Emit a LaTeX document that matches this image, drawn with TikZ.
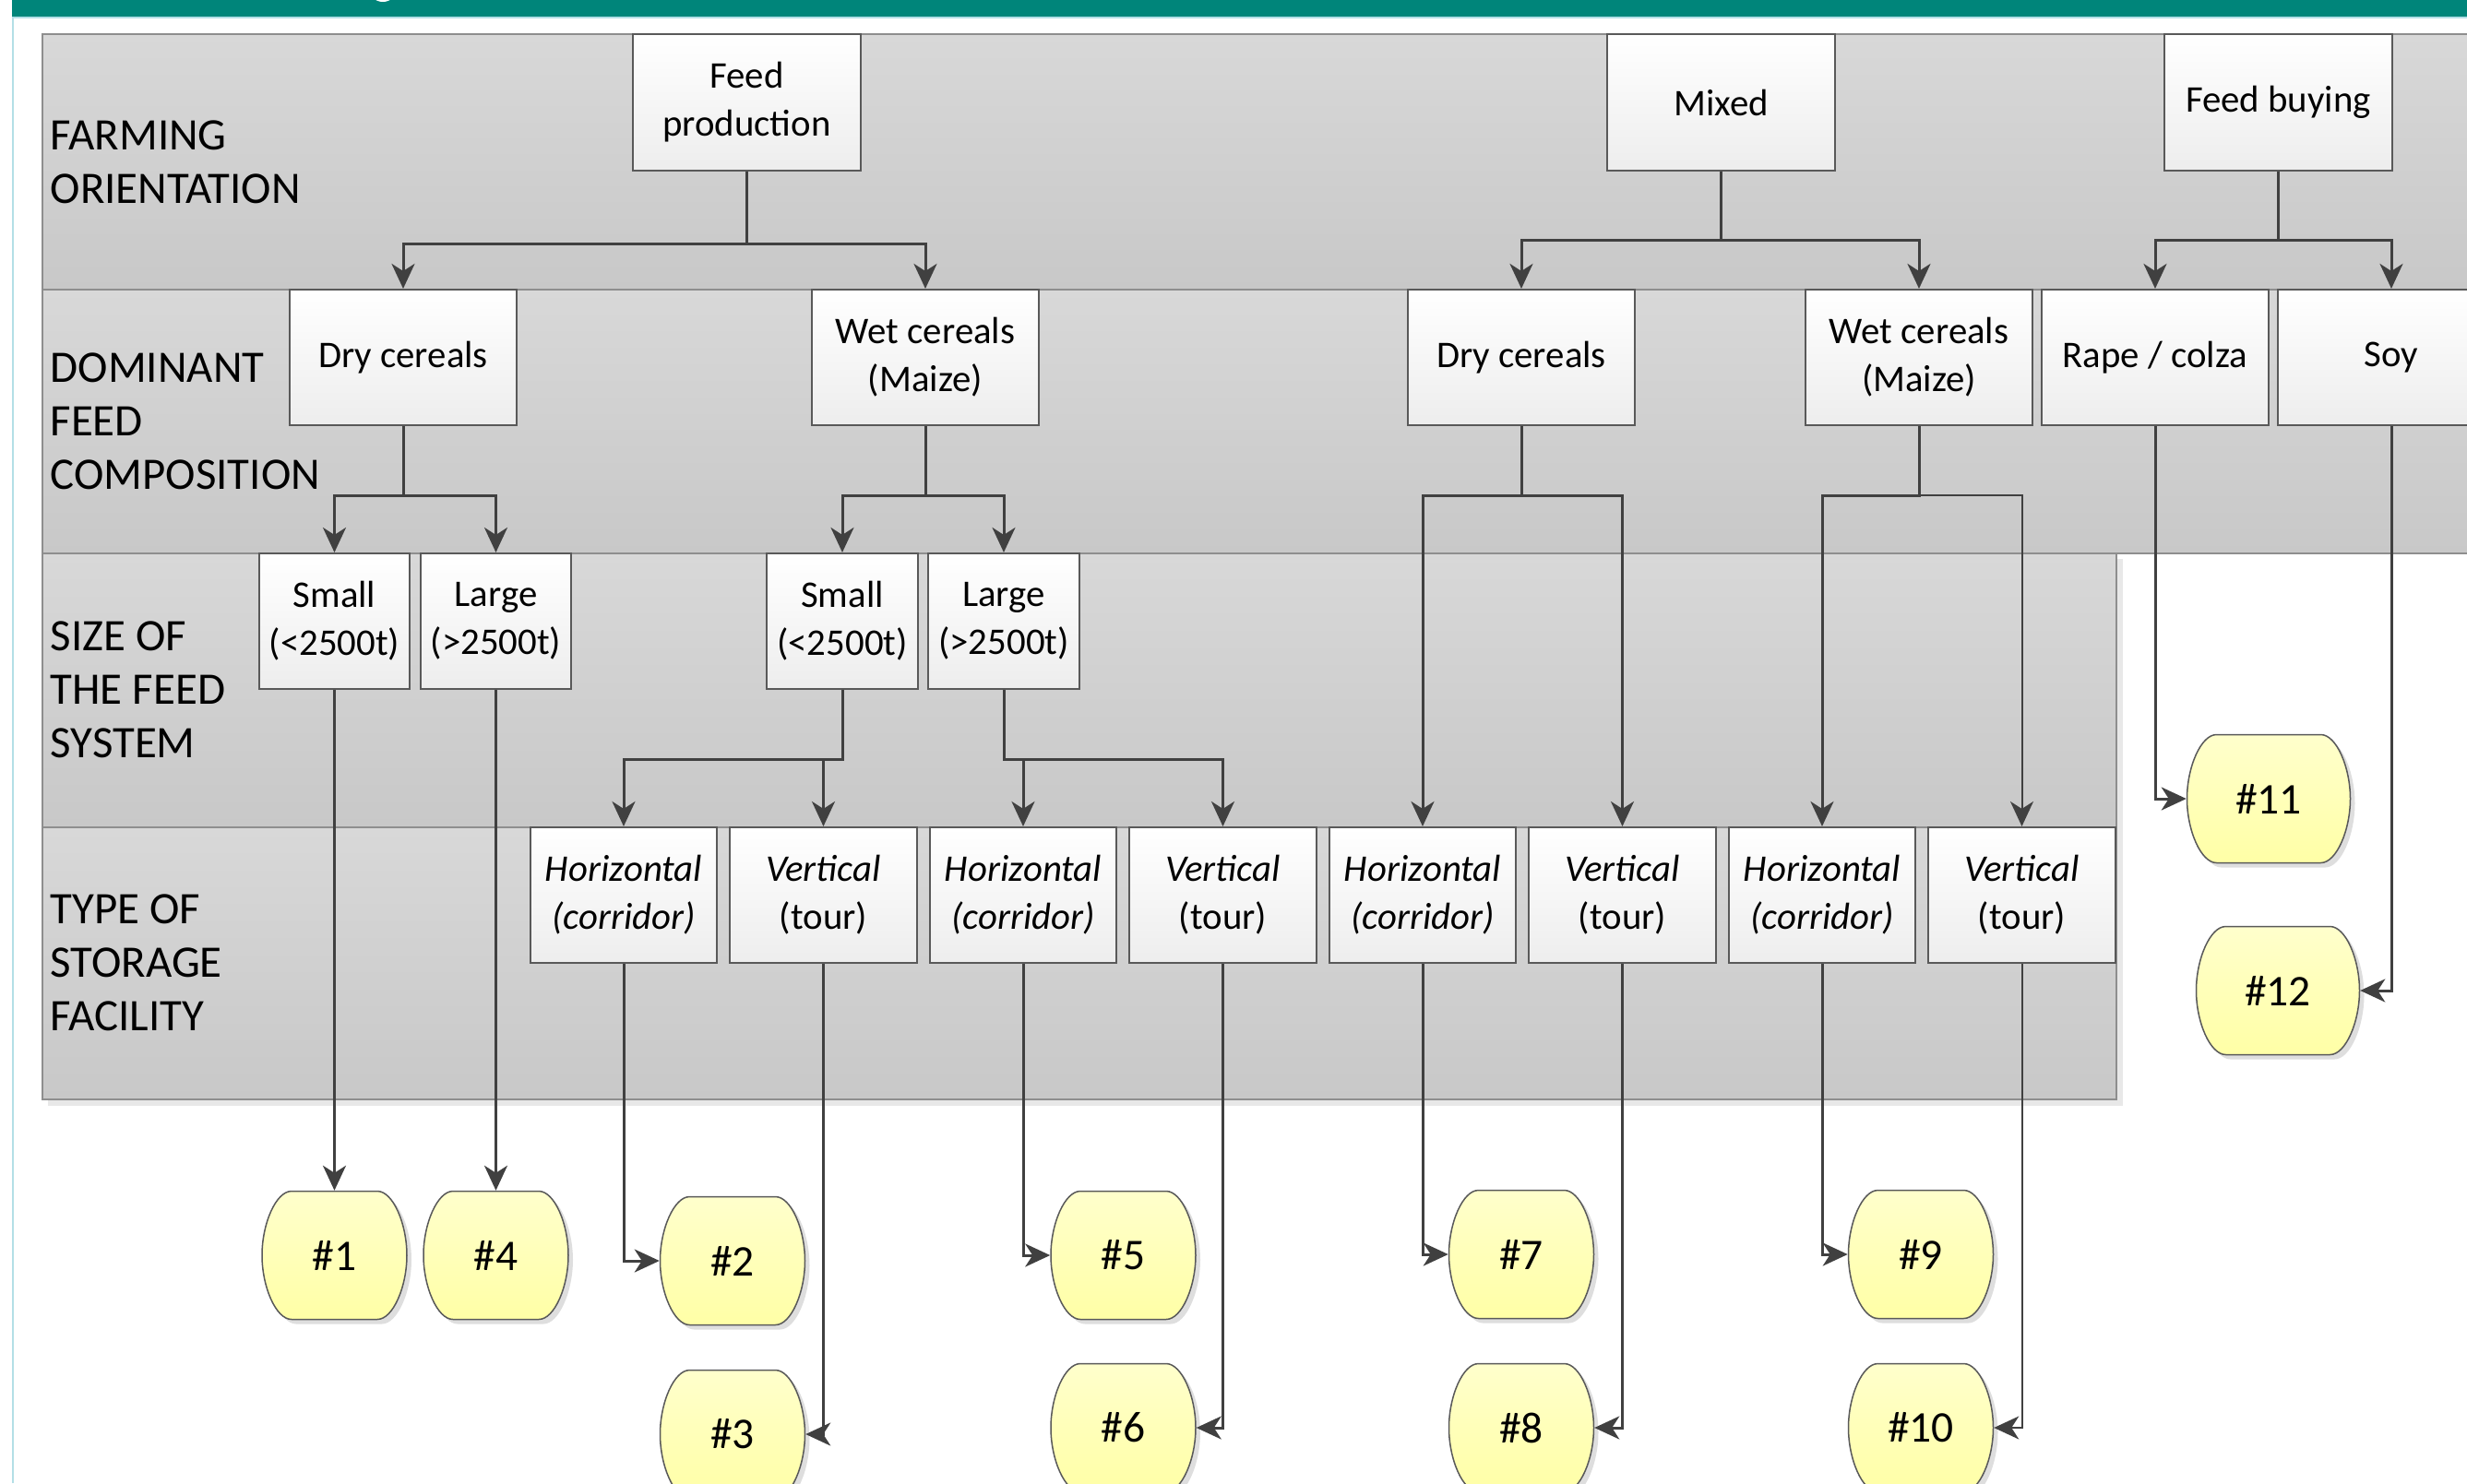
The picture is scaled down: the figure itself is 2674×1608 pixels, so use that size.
\documentclass[tikz,border=0pt]{standalone}
\usepackage{fontspec}
\setmainfont{Carlito}
\usetikzlibrary{arrows.meta,shadows}

\definecolor{barteal}{HTML}{00857A}
\definecolor{framecyan}{HTML}{B3DFE6}
\definecolor{linegray}{HTML}{404040}
\definecolor{edgegray}{HTML}{595959}
\definecolor{bandtop}{HTML}{D8D8D8}
\definecolor{bandbot}{HTML}{C8C8C8}
\definecolor{bandedge}{HTML}{8E8E8E}
\definecolor{restop}{HTML}{FFFFCC}
\definecolor{resbot}{HTML}{FFFFA6}

\begin{document}
\begin{tikzpicture}[x=0.01cm,y=-0.01cm,
	band/.style={draw=bandedge,line width=0.02cm,top color=bandtop,bottom color=bandbot},
	lab/.style={anchor=west,inner sep=0pt,align=left,font=\fontsize{13.9}{16.5}\selectfont},
	box/.style={draw=edgegray,line width=0.02cm,top color=white,bottom color=black!7,
		minimum width=2.46cm,minimum height=1.47cm,inner sep=0pt,align=center,
		font=\fontsize{11.6}{14.8}\selectfont},
	resline/.style={draw=edgegray,line width=0.015cm,top color=restop,bottom color=resbot,
		drop shadow={shadow xshift=0.05cm,shadow yshift=-0.05cm,fill=black!13,opacity=1}},
	res/.style={minimum width=1.57cm,minimum height=1.39cm,inner sep=0pt,
		font=\fontsize{13.5}{16}\selectfont},
	conn/.style={draw=linegray,line width=0.03cm,-{Stealth[length=0.27cm,width=0.25cm,inset=0.08cm]}},
	thinconn/.style={conn,line width=0.02cm}]
	\newcommand\rowA{111}
	\newcommand\rowB{387.5}
	\newcommand\rowC{673.5}
	\newcommand\rowD{970.5}
	\newcommand\resA{1361}
	\newcommand\resB{1548}
	% outcome outline: centre x, centre y, half width
	\newcommand\barrel[3]{
		\path[resline] (#1-#3+32,#2-69.5) -- (#1+#3-32,#2-69.5)
			.. controls (#1+#3-15,#2-69.5) and (#1+#3,#2-34) .. (#1+#3,#2)
			.. controls (#1+#3,#2+34) and (#1+#3-15,#2+69.5) .. (#1+#3-32,#2+69.5)
			-- (#1-#3+32,#2+69.5)
			.. controls (#1-#3+15,#2+69.5) and (#1-#3,#2+34) .. (#1-#3,#2)
			.. controls (#1-#3,#2-34) and (#1-#3+15,#2-69.5) .. cycle;
	}

	\useasboundingbox (0,0) rectangle (2674,1608);
	\clip (0,0) rectangle (2674,1608);

	% top bar and frame
	\fill[barteal] (13,0) rectangle (2674,18);
	\fill[white] (415,-14) circle (16);
	\draw[framecyan,line width=0.02cm] (14,1608) -- (14,19) -- (2674,19);

	% level bands
	\fill[black!9] (52,606) rectangle (2301,1199);
	\draw[band] (46,37) rectangle (2700,314);
	\draw[band] (46,314) rectangle (2700,600);
	\draw[band] (46,600) rectangle (2294,897);
	\draw[band] (46,897) rectangle (2294,1192);

	\node[lab] (lA) at (54,175.5) {FARMING\\ORIENTATION};
	\node[lab] (lB) at (54,457) {DOMINANT\\FEED\\COMPOSITION};
	\node[lab] (lC) at (54,748) {SIZE OF\\THE FEED\\SYSTEM};
	\node[lab] (lD) at (54,1044) {TYPE OF\\STORAGE\\FACILITY};

	% farming orientation
	\node[box] (fp) at (809.5,\rowA) {Feed\\production};
	\node[box] (mx) at (1865.5,\rowA) {Mixed};
	\node[box] (fb) at (2469.5,\rowA) {Feed buying};

	% feed composition
	\node[box] (dc1) at (437,\rowB) {Dry cereals};
	\node[box] (wc1) at (1003,\rowB) {Wet cereals\\(Maize)};
	\node[box] (dc2) at (1649,\rowB) {Dry cereals};
	\node[box] (wc2) at (2080,\rowB) {Wet cereals\\(Maize)};
	\node[box] (rc) at (2336,\rowB) {Rape / colza};
	\node[box] (soy) at (2592,\rowB) {Soy};

	% size of the feed system
	\node[box,minimum width=1.63cm] (sm1) at (362.5,\rowC) {Small\\(<2500t)};
	\node[box,minimum width=1.63cm] (lg1) at (537.5,\rowC) {Large\\(>2500t)};
	\node[box,minimum width=1.63cm] (sm2) at (913,\rowC) {Small\\(<2500t)};
	\node[box,minimum width=1.63cm] (lg2) at (1088,\rowC) {Large\\(>2500t)};

	% storage facility
	\node[box,minimum width=2.02cm] (h1) at (676,\rowD) {\textit{Horizontal}\\\textit{(corridor)}};
	\node[box,minimum width=2.02cm] (v1) at (892.5,\rowD) {\textit{Vertical}\\(tour)};
	\node[box,minimum width=2.02cm] (h2) at (1109,\rowD) {\textit{Horizontal}\\\textit{(corridor)}};
	\node[box,minimum width=2.02cm] (v2) at (1325.5,\rowD) {\textit{Vertical}\\(tour)};
	\node[box,minimum width=2.02cm] (h3) at (1542,\rowD) {\textit{Horizontal}\\\textit{(corridor)}};
	\node[box,minimum width=2.02cm] (v3) at (1758.5,\rowD) {\textit{Vertical}\\(tour)};
	\node[box,minimum width=2.02cm] (h4) at (1975,\rowD) {\textit{Horizontal}\\\textit{(corridor)}};
	\node[box,minimum width=2.02cm] (v4) at (2191.5,\rowD) {\textit{Vertical}\\(tour)};

	% outcomes
	\barrel{362.5}{\resA}{78.5}
	\barrel{537.5}{\resA}{78.5}
	\barrel{794}{1367}{78.5}
	\barrel{794}{1555}{78.5}
	\barrel{1217.5}{\resA}{78.5}
	\barrel{1217.5}{\resB}{78.5}
	\barrel{1649}{1360}{78.5}
	\barrel{1649}{\resB}{78.5}
	\barrel{2082}{1360}{78.5}
	\barrel{2082}{\resB}{78.5}
	\barrel{2459}{866}{88.5}
	\barrel{2469}{1074}{88.5}

	\node[res] (r1) at (362.5,\resA) {\#1};
	\node[res] (r4) at (537.5,\resA) {\#4};
	\node[res] (r2) at (794,1367) {\#2};
	\node[res] (r3) at (794,1555) {\#3};
	\node[res] (r5) at (1217.5,\resA) {\#5};
	\node[res] (r6) at (1217.5,\resB) {\#6};
	\node[res] (r7) at (1649,1360) {\#7};
	\node[res] (r8) at (1649,\resB) {\#8};
	\node[res] (r9) at (2082,1360) {\#9};
	\node[res] (r10) at (2082,\resB) {\#10};
	\node[res,minimum width=1.77cm] (r11) at (2459,866) {\#11};
	\node[res,minimum width=1.77cm] (r12) at (2469,1074) {\#12};

	% connectors
	\draw[conn] (fp.south) -- ++(0,79) -| (dc1.north);
	\draw[conn] (fp.south) -- ++(0,79) -| (wc1.north);
	\draw[conn] (mx.south) -- ++(0,75) -| (dc2.north);
	\draw[conn] (mx.south) -- ++(0,75) -| (wc2.north);
	\draw[conn] (fb.south) -- ++(0,75) -| (rc.north);
	\draw[conn] (fb.south) -- ++(0,75) -| (soy.north);

	\draw[conn] (dc1.south) -- ++(0,75) -| (sm1.north);
	\draw[conn] (dc1.south) -- ++(0,75) -| (lg1.north);
	\draw[conn] (wc1.south) -- ++(0,75) -| (sm2.north);
	\draw[conn] (wc1.south) -- ++(0,75) -| (lg2.north);
	\draw[conn] (dc2.south) -- ++(0,75) -| (h3.north);
	\draw[conn] (dc2.south) -- ++(0,75) -| (v3.north);
	\draw[thinconn] (wc2.south) -- ++(0,75) -| (v4.north);
	\draw[conn] (wc2.south) -- ++(0,75) -| (h4.north);

	\draw[conn] (sm2.south) -- ++(0,75) -| (h1.north);
	\draw[conn] (sm2.south) -- ++(0,75) -| (v1.north);
	\draw[conn] (lg2.south) -- ++(0,75) -| (h2.north);
	\draw[conn] (lg2.south) -- ++(0,75) -| (v2.north);

	\draw[conn] (sm1.south) -- (r1.north);
	\draw[conn] (lg1.south) -- (r4.north);
	\draw[conn] (h1.south) |- (r2.west);
	\draw[conn] (v1.south) |- (r3.east);
	\draw[conn] (h2.south) |- (r5.west);
	\draw[conn] (v2.south) |- (r6.east);
	\draw[conn] (h3.south) |- (r7.west);
	\draw[conn] (v3.south) |- (r8.east);
	\draw[conn] (h4.south) |- (r9.west);
	\draw[thinconn] (v4.south) |- (r10.east);
	\draw[conn] (rc.south) |- (r11.west);
	\draw[conn] (soy.south) |- (r12.east);
\end{tikzpicture}
\end{document}
